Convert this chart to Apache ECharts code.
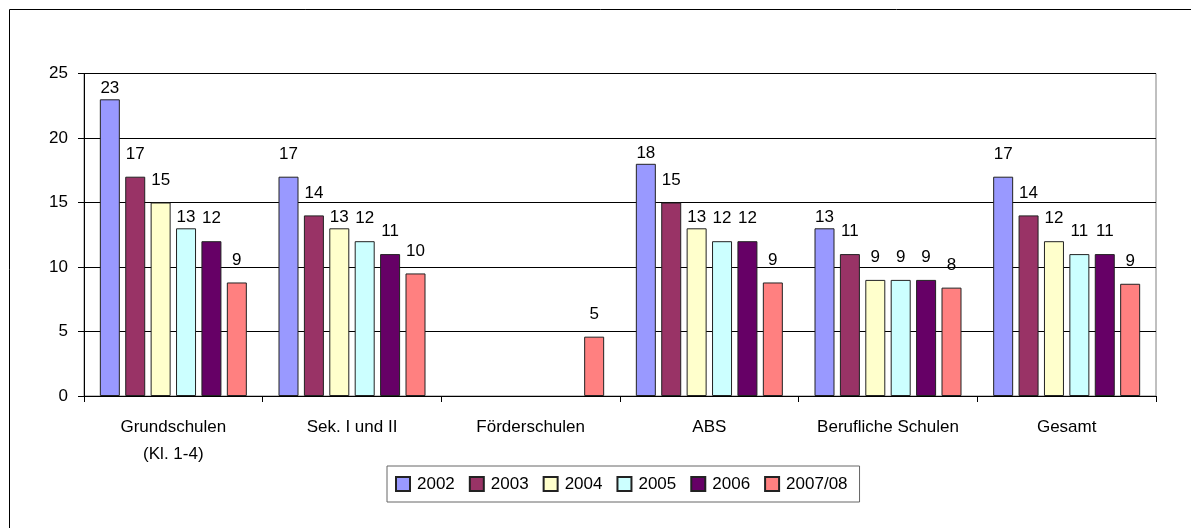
<!DOCTYPE html>
<html>
<head>
<meta charset="utf-8">
<script src="https://cdn.jsdelivr.net/npm/echarts@6/dist/echarts.min.js"></script>
<style>
html,body{margin:0;padding:0;background:#fff;}
#chart{width:1191px;height:528px;}
</style>
</head>
<body>
<div id="chart"></div>
<script>
const categories = ['Grundschulen\n(Kl. 1-4)', 'Sek. I und II', 'Förderschulen', 'ABS', 'Berufliche Schulen', 'Gesamt'];
const seriesNames = ['2002', '2003', '2004', '2005', '2006', '2007/08'];
const v2002 = [23, 17, null, 18, 13, 17];
const v2003 = [17, 14, null, 15, 11, 14];
const v2004 = [15, 13, null, 13, 9, 12];
const v2005 = [13, 12, null, 12, 9, 11];
const v2006 = [12, 11, null, 12, 9, 11];
const v2007 = [8.8, 9.5, 4.6, 8.8, 8.4, 8.7];
const yTicks = [0, 5, 10, 15, 20, 25];

const values = [v2002, v2003, v2004, v2005, v2006, v2007];
const colors = ['#9999FF', '#993366', '#FFFFCC', '#CCFFFF', '#660066', '#FF8080'];
// labels that sit closer to their bar (series index, category index)
const closeLabels = [[0,0],[3,0],[2,1],[0,3],[2,3],[0,4]];
const FONT = "'Liberation Sans', Arial, sans-serif";
const FS = 17;

const chart = echarts.init(document.getElementById('chart'), null, {renderer: 'canvas'});

const series = values.map((arr, si) => ({
  name: seriesNames[si],
  type: 'bar',
  barWidth: 20,
  barGap: '27%',
  itemStyle: {color: colors[si], borderColor: '#222', borderWidth: 1},
  label: {
    show: true, position: 'top', distance: 14, color: '#000',
    fontFamily: FONT, fontSize: FS,
    formatter: p => p.value == null ? '' : String(Math.round(p.value))
  },
  data: arr.map((v, ci) => {
    const close = closeLabels.some(c => c[0] === si && c[1] === ci);
    return close ? {value: v, label: {distance: 2}} : v;
  })
}));

chart.setOption({
  animation: false,
  backgroundColor: '#fff',
  textStyle: {fontFamily: FONT},
  grid: {left: 84, right: 35, top: 73.5, bottom: 132, show: true, borderColor: '#808080', borderWidth: 1, backgroundColor: 'transparent'},
  graphic: [{
    type: 'rect', shape: {x: 9.5, y: 9.5, width: 1400, height: 800},
    style: {fill: 'none', stroke: '#000', lineWidth: 1}, silent: true, z: 100
  }],
  legend: {
    data: seriesNames,
    left: 387, top: 466,
    icon: 'rect',
    itemWidth: 14, itemHeight: 14, itemGap: 14,
    padding: [8, 12, 8, 8],
    borderColor: '#666', borderWidth: 1,
    textStyle: {fontFamily: FONT, fontSize: FS, color: '#000', lineHeight: 20, padding: [0, 0, 0, 2]},
    selectedMode: false
  },
  xAxis: {
    type: 'category',
    data: categories,
    axisLine: {lineStyle: {color: '#000', width: 1}},
    axisTick: {show: true, length: 6, lineStyle: {color: '#000'}},
    axisLabel: {color: '#000', fontFamily: FONT, fontSize: FS, lineHeight: 27, margin: 18, interval: 0}
  },
  yAxis: {
    type: 'value',
    min: yTicks[0], max: yTicks[yTicks.length - 1], interval: 5,
    axisLine: {show: true, lineStyle: {color: '#000', width: 1}},
    axisTick: {show: true, length: 6, lineStyle: {color: '#000'}},
    axisLabel: {color: '#000', fontFamily: FONT, fontSize: FS, margin: 16},
    splitLine: {show: true, lineStyle: {color: '#000', width: 1}}
  },
  series: series
});
</script>
</body>
</html>
